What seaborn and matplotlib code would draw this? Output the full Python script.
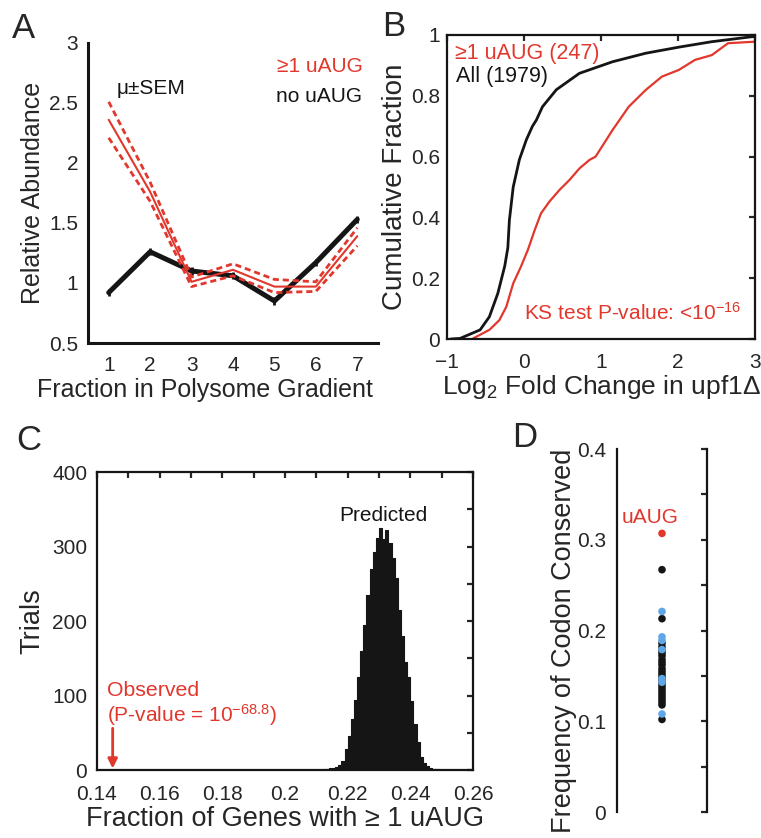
import numpy as np
import pandas as pd
import matplotlib
matplotlib.use("Agg")
import matplotlib.pyplot as plt
import seaborn as sns
from matplotlib.ticker import MultipleLocator, FuncFormatter

# ---------------- data ----------------
# Panel A
fractions = [1, 2, 3, 4, 5, 6, 7]
uaug_mean = [2.36, 1.76, 1.01, 1.11, 0.97, 0.97, 1.39]
uaug_upper = [2.51, 1.84, 1.05, 1.16, 1.03, 1.01, 1.46]
uaug_lower = [2.21, 1.68, 0.97, 1.06, 0.92, 0.93, 1.31]
nouaug_mean = [0.92, 1.26, 1.10, 1.06, 0.85, 1.17, 1.53]
nouaug_sem = [0.03, 0.03, 0.03, 0.03, 0.03, 0.03, 0.03]

# Panel B (cumulative distributions)
all_x = [-0.95, -0.83, -0.57, -0.45, -0.34, -0.25, -0.21, -0.19, -0.14, -0.06,
         0.03, 0.11, 0.16, 0.24, 0.42, 0.72, 1.15, 1.58, 2.01, 2.44, 2.95, 3.0]
all_y = [0.0, 0.002, 0.03, 0.073, 0.15, 0.24, 0.30, 0.39, 0.50, 0.59,
         0.655, 0.70, 0.72, 0.764, 0.82, 0.874, 0.912, 0.94, 0.96, 0.978, 0.994, 0.995]
uaug_x = [-0.66, -0.45, -0.32, -0.23, -0.14, -0.04, 0.05, 0.14, 0.22, 0.33, 0.46,
          0.59, 0.72, 0.85, 0.93, 1.15, 1.36, 1.58, 1.79, 2.01, 2.22, 2.44, 2.65, 3.0]
uaug_y = [0.002, 0.03, 0.062, 0.106, 0.183, 0.238, 0.293, 0.359, 0.413, 0.452, 0.49,
          0.523, 0.561, 0.589, 0.60, 0.6875, 0.764, 0.819, 0.863, 0.885, 0.918, 0.934,
          0.973, 0.978]

# Panel C histogram (bin centres, trials)
hist_centers = [0.2125, 0.2135, 0.2145, 0.2155, 0.2165, 0.2175, 0.2185, 0.2195,
                0.2205, 0.2215, 0.2225, 0.2235, 0.2245, 0.2255, 0.2265, 0.2275,
                0.2285, 0.2295, 0.2305, 0.2315, 0.2325, 0.2335, 0.2345, 0.2355,
                0.2365, 0.2375, 0.2385, 0.2395, 0.2405, 0.2415, 0.2425, 0.2435,
                0.2445, 0.2455, 0.2465, 0.2475, 0.2485]
hist_counts = [2, 2, 3, 3, 4, 7, 12, 28, 45, 68, 94, 125, 160, 195, 235, 270,
               292, 312, 325, 310, 322, 305, 285, 258, 215, 180, 145, 125, 92,
               62, 38, 18, 9, 5, 3, 2, 1]
observed_value = 0.145

# Panel D
black_codons = [0.267, 0.213, 0.186, 0.182, 0.178, 0.175, 0.172, 0.168, 0.165,
                0.162, 0.158, 0.155, 0.152, 0.149, 0.146, 0.142, 0.139, 0.136,
                0.133, 0.130, 0.127, 0.124, 0.121, 0.118, 0.102]
blue_codons = [0.221, 0.193, 0.189, 0.179, 0.147, 0.143, 0.108]
uaug_codon = [0.307]

RED = "#e2372c"
BLUE = "#5ea6e6"
BLACK = "#151515"

# ---------------- style ----------------
sns.set_style("white")
plt.rcParams["font.family"] = ["Liberation Sans", "DejaVu Sans"]
plt.rcParams["mathtext.fontset"] = "custom"
plt.rcParams["mathtext.rm"] = "Liberation Sans"
plt.rcParams["mathtext.it"] = "Liberation Sans:italic"
plt.rcParams["mathtext.bf"] = "Liberation Sans:bold"
plt.rcParams["axes.linewidth"] = 1.6
plt.rcParams["axes.edgecolor"] = BLACK

TICK = 15

fig = plt.figure(figsize=(7.61, 8.38), dpi=100)
W, H = 761.0, 838.0


def add_axes(l, r, t, b):
    return fig.add_axes([l / W, 1 - b / H, (r - l) / W, (b - t) / H])


def gfmt(v, pos):
    s = "%g" % v
    return s.replace("-", "\u2212")


# ---------------- Panel A ----------------
axA = add_axes(88, 378, 43, 343)
dfA = pd.DataFrame({"frac": fractions, "uaug": uaug_mean, "up": uaug_upper,
                    "lo": uaug_lower, "no": nouaug_mean})
sns.lineplot(data=dfA, x="frac", y="no", color=BLACK, lw=3.6, ax=axA)
axA.errorbar(fractions, nouaug_mean, yerr=nouaug_sem, fmt="none", ecolor=BLACK,
             elinewidth=2, capsize=0)
sns.lineplot(data=dfA, x="frac", y="uaug", color=RED, lw=1.5, ax=axA)
sns.lineplot(data=dfA, x="frac", y="up", color=RED, lw=2.0, ax=axA,
             linestyle=(0, (2.2, 1.4)))
sns.lineplot(data=dfA, x="frac", y="lo", color=RED, lw=2.0, ax=axA,
             linestyle=(0, (2.2, 1.4)))
axA.set_xlim(0.5, 7.5)
axA.set_ylim(0.5, 3)
axA.yaxis.set_major_locator(MultipleLocator(0.5))
axA.yaxis.set_minor_locator(MultipleLocator(0.25))
axA.xaxis.set_major_locator(MultipleLocator(1))
axA.yaxis.set_major_formatter(FuncFormatter(gfmt))
axA.xaxis.set_major_formatter(FuncFormatter(gfmt))
for s in ["top", "right"]:
    axA.spines[s].set_visible(False)
axA.spines["left"].set_linewidth(2.2)
axA.spines["bottom"].set_linewidth(2.2)
axA.tick_params(direction="in", which="both", length=4, width=1.6,
                labelsize=TICK)
axA.tick_params(axis="x", pad=9)
axA.tick_params(axis="y", pad=7)
axA.set_xlabel("Fraction in Polysome Gradient", fontsize=18)
axA.xaxis.set_label_coords((205 - 88) / 290.0, -0.115)
axA.set_ylabel("Relative Abundance", fontsize=18, labelpad=3)
axA.text(1.2, 2.625, "\u03bc\u00b1SEM", fontsize=15, color=BLACK,
         va="center", ha="left")
axA.text(7.12, 2.8, "\u22651 uAUG", fontsize=15, color=RED, va="center", ha="right")
axA.text(7.12, 2.55, "no uAUG", fontsize=15, color=BLACK, va="center", ha="right")

# ---------------- Panel B ----------------
axB = add_axes(447, 755, 35, 339)
dfAll = pd.DataFrame({"x": all_x, "y": all_y})
dfU = pd.DataFrame({"x": uaug_x, "y": uaug_y})
sns.lineplot(data=dfAll, x="x", y="y", color=BLACK, lw=2, ax=axB, estimator=None)
sns.lineplot(data=dfU, x="x", y="y", color=RED, lw=1.6, ax=axB, estimator=None)
axB.set_xlim(-1, 3)
axB.set_ylim(0, 1)
axB.xaxis.set_major_locator(MultipleLocator(1))
axB.yaxis.set_major_locator(MultipleLocator(0.2))
axB.xaxis.set_major_formatter(FuncFormatter(gfmt))
axB.yaxis.set_major_formatter(FuncFormatter(gfmt))
axB.tick_params(direction="in", which="both", length=4, width=1.6,
                labelsize=TICK, top=True, right=True)
axB.tick_params(axis="x", pad=10)
axB.tick_params(axis="y", pad=5)
axB.set_xlabel("Log$_{\\mathrm{2}}$ Fold Change in upf1\u0394", fontsize=19, labelpad=1)
axB.set_ylabel("Cumulative Fraction", fontsize=20, labelpad=2)
axB.text(-0.9, 0.94, "\u22651 uAUG (247)", fontsize=15.5, color=RED, va="center")
axB.text(-0.88, 0.862, "All (1979)", fontsize=15.5, color=BLACK, va="center")
axB.text(0.0, 0.086, "KS test P-value: <10$^{\\mathrm{-16}}$", fontsize=15,
         color=RED, va="center")

# ---------------- Panel C ----------------
axC = add_axes(97, 473, 472, 770)
sns.histplot(x=hist_centers, weights=hist_counts, binwidth=0.001,
             binrange=(0.212, 0.249), color=BLACK, alpha=1, element="step",
             fill=True, linewidth=0.8, edgecolor=BLACK, ax=axC)
axC.set_xlim(0.14, 0.26)
axC.set_ylim(0, 400)
axC.xaxis.set_major_locator(MultipleLocator(0.02))
axC.xaxis.set_minor_locator(MultipleLocator(0.01))
axC.yaxis.set_major_locator(MultipleLocator(100))
axC.yaxis.set_minor_locator(MultipleLocator(50))
axC.xaxis.set_major_formatter(FuncFormatter(gfmt))
axC.yaxis.set_major_formatter(FuncFormatter(gfmt))
axC.tick_params(direction="in", which="both", length=4, width=1.6,
                labelsize=TICK, top=True, right=True)
axC.tick_params(axis="x", pad=11)
axC.tick_params(axis="y", pad=7)
axC.set_xlabel("Fraction of Genes with \u2265 1 uAUG", fontsize=19.5, labelpad=1)
axC.set_ylabel("Trials", fontsize=19.5, labelpad=5)
axC.text(0.2313, 342, "Predicted", fontsize=15, color=BLACK, ha="center", va="center")
axC.text(0.1432, 107, "Observed", fontsize=15.3, color=RED, ha="left", va="center")
axC.text(0.1432, 74, "(P-value = 10$^{\\mathrm{-68.8}}$)", fontsize=15, color=RED,
         ha="left", va="center")
axC.annotate("", xy=(observed_value, 2), xytext=(observed_value, 56),
             arrowprops=dict(arrowstyle="-|>", color=RED, lw=2,
                             mutation_scale=14, shrinkA=0, shrinkB=0))

# ---------------- Panel D ----------------
axD = add_axes(617, 707, 449, 812)
dfD = pd.DataFrame({
    "x": [0] * (len(black_codons) + len(blue_codons) + len(uaug_codon)),
    "y": black_codons + blue_codons + uaug_codon,
    "g": ["black"] * len(black_codons) + ["blue"] * len(blue_codons)
         + ["uAUG"] * len(uaug_codon),
})
sns.scatterplot(data=dfD, x="x", y="y", hue="g",
                palette={"black": BLACK, "blue": BLUE, "uAUG": RED},
                s=30, edgecolor="none", legend=False, ax=axD)
axD.set_xlim(-1, 1)
axD.set_ylim(0, 0.4)
axD.yaxis.set_major_locator(MultipleLocator(0.1))
axD.yaxis.set_minor_locator(MultipleLocator(0.05))
axD.yaxis.set_major_formatter(FuncFormatter(gfmt))
axD.set_xticks([])
axD.spines["top"].set_visible(False)
axD.spines["bottom"].set_visible(False)
axD.tick_params(axis="y", direction="in", which="both", length=4, width=1.6,
                labelsize=TICK, right=True, pad=8)
axD.set_xlabel("")
axD.set_ylabel("Frequency of Codon Conserved", fontsize=19.5, labelpad=0)
axD.yaxis.label.set_y(0.471)
axD.text(-0.27, 0.324, "uAUG", fontsize=15, color=RED, ha="center", va="center")

# ---------------- panel letters ----------------
fig.text(12 / W, 1 - 38 / H, "A", fontsize=25, va="baseline")
fig.text(382 / W, 1 - 36 / H, "B", fontsize=25, va="baseline")
fig.text(16 / W, 1 - 450 / H, "C", fontsize=25, va="baseline")
fig.text(512 / W, 1 - 447 / H, "D", fontsize=25, va="baseline")

fig.savefig("out.png", dpi=100)
